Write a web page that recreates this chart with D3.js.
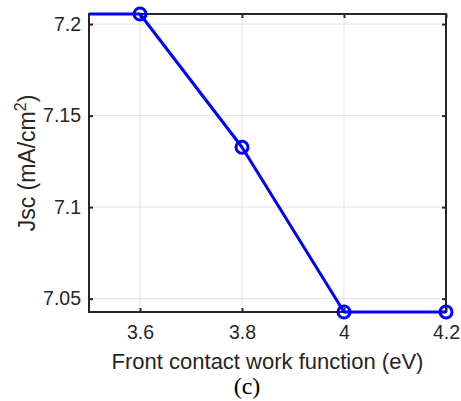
<!DOCTYPE html>
<html>
<head>
<meta charset="utf-8">
<script src="https://cdn.jsdelivr.net/npm/d3@7/dist/d3.min.js"></script>
<style>
  html, body { margin: 0; padding: 0; background: #fff; }
  svg { display: block; }
  .sans { font-family: "Liberation Sans", Arial, sans-serif; }
  .serif { font-family: "Liberation Serif", "Times New Roman", serif; }
</style>
</head>
<body>
<svg id="chart" width="461" height="401"></svg>
<script>
// Front contact work function sweep (eV) and short-circuit current density (mA/cm^2)
const workFunction = [3.4, 3.6, 3.8, 4.0, 4.2];
const jsc = [7.2055, 7.2055, 7.1327, 7.0427, 7.0427];
const xTicks = [3.6, 3.8, 4.0, 4.2];
const yTicks = [7.05, 7.1, 7.15, 7.2];
const xTickLabels = ["3.6", "3.8", "4", "4.2"];
const yTickLabels = ["7.05", "7.1", "7.15", "7.2"];
const xDomain = [3.5, 4.2];
const yDomain = [7.0427, 7.2055];

const svg = d3.select("#chart");
const margin = { left: 89, top: 14, right: 15, bottom: 89 };
const W = 461 - margin.left - margin.right;
const H = 401 - margin.top - margin.bottom;
const axisColor = "#262626";

const x = d3.scaleLinear().domain(xDomain).range([0, W]);
const y = d3.scaleLinear().domain(yDomain).range([H, 0]);

const g = svg.append("g").attr("transform", `translate(${margin.left},${margin.top})`);

// grid
g.append("g").selectAll("line").data(xTicks).join("line")
  .attr("x1", d => x(d)).attr("x2", d => x(d))
  .attr("y1", 0).attr("y2", H)
  .attr("stroke", axisColor).attr("stroke-opacity", 0.13).attr("stroke-width", 1);
g.append("g").selectAll("line").data(yTicks).join("line")
  .attr("y1", d => y(d)).attr("y2", d => y(d))
  .attr("x1", 0).attr("x2", W)
  .attr("stroke", axisColor).attr("stroke-opacity", 0.13).attr("stroke-width", 1);

// axes with inward ticks on all four sides
function styleAxis(sel) {
  sel.select(".domain").remove();
  sel.attr("font-family", null).attr("font-size", null).attr("class", "sans");
  sel.selectAll(".tick line").attr("stroke", axisColor).attr("stroke-width", 2);
  sel.selectAll(".tick text").attr("fill", axisColor).attr("font-size", 19.5);
}
const fmtX = (d, i) => xTickLabels[i];
const fmtY = (d, i) => yTickLabels[i];

g.append("g").attr("transform", `translate(0,${H})`)
  .call(d3.axisBottom(x).tickValues(xTicks).tickFormat(fmtX).tickSizeInner(-4).tickSizeOuter(0).tickPadding(13.5))
  .call(styleAxis);
g.append("g")
  .call(d3.axisTop(x).tickValues(xTicks).tickFormat("").tickSizeInner(-4).tickSizeOuter(0))
  .call(styleAxis);
g.append("g")
  .call(d3.axisLeft(y).tickValues(yTicks).tickFormat(fmtY).tickSizeInner(-4).tickSizeOuter(0).tickPadding(8))
  .call(styleAxis);
g.append("g").attr("transform", `translate(${W},0)`)
  .call(d3.axisRight(y).tickValues(yTicks).tickFormat("").tickSizeInner(-4).tickSizeOuter(0))
  .call(styleAxis);

// axes box
g.append("rect").attr("x", 0).attr("y", 0).attr("width", W).attr("height", H)
  .attr("fill", "none").attr("stroke", axisColor).attr("stroke-width", 2);

// data line, clipped to the x-limits
svg.append("defs").append("clipPath").attr("id", "plotClip")
  .append("rect").attr("x", 0).attr("y", -10).attr("width", W).attr("height", H + 20);

const pts = workFunction.map((d, i) => ({ wf: d, j: jsc[i] }));
const line = d3.line().x(d => x(d.wf)).y(d => y(d.j));
g.append("path").datum(pts)
  .attr("clip-path", "url(#plotClip)")
  .attr("d", line)
  .attr("fill", "none").attr("stroke", "#0000ff").attr("stroke-width", 3)
  .attr("stroke-linejoin", "round");

g.append("g").selectAll("circle")
  .data(pts.filter(d => d.wf >= xDomain[0] && d.wf <= xDomain[1]))
  .join("circle")
  .attr("cx", d => x(d.wf)).attr("cy", d => y(d.j)).attr("r", 6)
  .attr("fill", "none").attr("stroke", "#0000ff").attr("stroke-width", 3);

// axis labels
g.append("text").attr("class", "sans")
  .attr("x", W / 2).attr("y", H + 57)
  .attr("text-anchor", "middle").attr("fill", axisColor)
  .attr("font-size", 22)
  .text("Front contact work function (eV)");

const yl = g.append("text").attr("class", "sans")
  .attr("transform", `translate(-54,${H / 2}) rotate(-90)`)
  .attr("text-anchor", "middle").attr("fill", axisColor)
  .attr("font-size", 23);
yl.append("tspan").text("Jsc (mA/cm");
yl.append("tspan").attr("dy", -9).attr("font-size", 16).text("2");
yl.append("tspan").attr("dy", 9).text(")");

svg.append("text").attr("class", "serif")
  .attr("x", 247).attr("y", 394)
  .attr("text-anchor", "middle").attr("fill", "#000")
  .attr("font-size", 24)
  .text("(c)");
</script>
</body>
</html>
